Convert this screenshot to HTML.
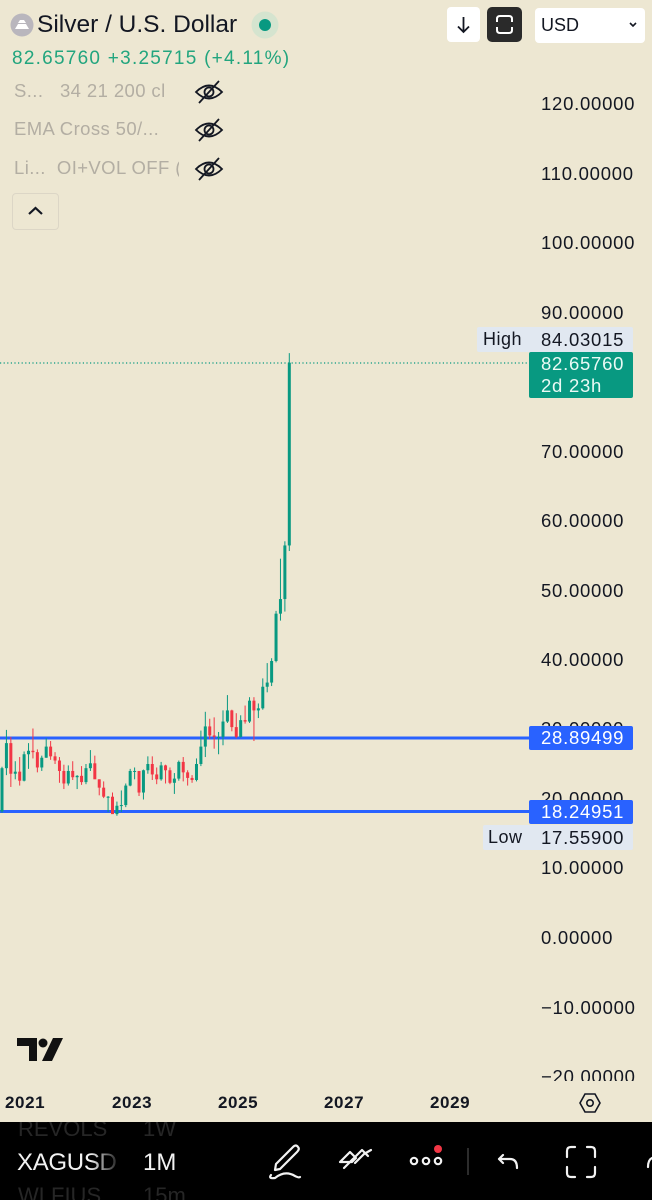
<!DOCTYPE html>
<html><head><meta charset="utf-8">
<style>
*{margin:0;padding:0;box-sizing:border-box}
body{width:652px;height:1200px;background:#ede7d2;font-family:"Liberation Sans",Arial,sans-serif;position:relative;overflow:hidden;color:#131722}
.abs{position:absolute}
.ax{position:absolute;left:541px;font-size:18.5px;letter-spacing:0.75px;line-height:22px;height:22px;white-space:nowrap;color:#131722}
.leg{position:absolute;left:14px;font-size:18.5px;color:#b3aea3;white-space:nowrap;letter-spacing:0.4px;overflow:hidden}
.yr{position:absolute;top:1093px;font-size:17px;font-weight:bold;letter-spacing:0.6px;color:#131722}
.lbl{position:absolute;left:529px;width:104px;height:24px;border-radius:2px;color:#fff;font-size:18.5px;letter-spacing:0.75px;line-height:24px;padding-left:12px;white-space:nowrap}
</style></head><body>

<!-- chart area -->
<div class="abs" style="left:0;top:0;width:652px;height:1081px;overflow:hidden">
  <div class="ax" style="top:93px">120.00000</div>
  <div class="ax" style="top:163px">110.00000</div>
  <div class="ax" style="top:232px">100.00000</div>
  <div class="ax" style="top:302px">90.00000</div>
  <div class="ax" style="top:441px">70.00000</div>
  <div class="ax" style="top:510px">60.00000</div>
  <div class="ax" style="top:580px">50.00000</div>
  <div class="ax" style="top:649px">40.00000</div>
  <div class="ax" style="top:718px">30.00000</div>
  <div class="ax" style="top:788px">20.00000</div>
  <div class="ax" style="top:857px">10.00000</div>
  <div class="ax" style="top:927px">0.00000</div>
  <div class="ax" style="top:997px">−10.00000</div>
  <div class="ax" style="top:1066px">−20.00000</div>

  <svg id="chart" class="abs" style="left:0;top:0" width="530" height="1081" viewBox="0 0 530 1081">
    <line x1="0" y1="363" x2="529" y2="363" stroke="#089981" stroke-width="1.2" stroke-dasharray="1.2 2.4"/>
    <line x1="0" y1="738" x2="529" y2="738" stroke="#2962ff" stroke-width="3"/>
    <line x1="0" y1="811.5" x2="529" y2="811.5" stroke="#2962ff" stroke-width="3"/>
    <g id="candles"></g>
  </svg>

  <!-- High box -->
  <div class="abs" style="left:477px;top:327px;width:156px;height:25px;background:#e1e8f1;border-radius:2px"></div>
  <div class="abs" style="left:483px;top:327px;font-size:18px;line-height:25px;letter-spacing:0.5px">High</div>
  <div class="abs" style="left:541px;top:327px;font-size:18.5px;line-height:25px;letter-spacing:0.75px">84.03015</div>
  <!-- current price -->
  <div class="abs" style="left:529px;top:352px;width:104px;height:46px;background:#089981;border-radius:2px;color:#eafaf5;font-size:18.5px;letter-spacing:0.75px;line-height:22px;padding:1px 0 0 12px">82.65760<br>2d 23h</div>
  <!-- blue labels -->
  <div class="lbl" style="top:726px;background:#2962ff">28.89499</div>
  <div class="lbl" style="top:800px;background:#2962ff">18.24951</div>
  <!-- Low box -->
  <div class="abs" style="left:483px;top:825px;width:150px;height:25px;background:#e1e8f1;border-radius:2px"></div>
  <div class="abs" style="left:488px;top:825px;font-size:18px;line-height:25px;letter-spacing:0.5px">Low</div>
  <div class="abs" style="left:541px;top:825px;font-size:18.5px;line-height:25px;letter-spacing:0.75px">17.55900</div>

  <!-- TV logo -->
  <svg class="abs" style="left:16px;top:1036px" width="50" height="28" viewBox="0 0 50 28">
    <polygon points="1,2 21,2 21,25 13,25 13,10 1,10" fill="#111"/>
    <circle cx="27" cy="7" r="4.5" fill="#111"/>
    <polygon points="37,2 47,2 36,25 26,25" fill="#111"/>
  </svg>
</div>

<!-- header -->
<svg class="abs" style="left:10px;top:13px" width="24" height="24" viewBox="0 0 24 24">
  <circle cx="12" cy="12" r="11.5" fill="#b9b6bd"/>
  <path d="M5 16 L8 11 L16 11 L19 16 Z M8 10 L10 7 L14 7 L16 10 Z" fill="#fff"/>
</svg>
<div class="abs" style="left:37px;top:10px;font-size:24.5px;line-height:30px;color:#131722;white-space:nowrap">Silver / U.S. Dollar</div>
<svg class="abs" style="left:251px;top:11px" width="28" height="28" viewBox="0 0 28 28">
  <circle cx="14" cy="14" r="13.5" fill="#d5e4cf"/>
  <circle cx="14" cy="14" r="6" fill="#089981"/>
</svg>
<div class="abs" style="left:12px;top:47px;font-size:19px;letter-spacing:1.25px;line-height:24px;color:#22a57e;white-space:nowrap">82.65760 +3.25715 (+4.11%)</div>

<div class="abs" style="left:447px;top:7px;width:33px;height:35px;background:#fff;border-radius:4px"></div>
<svg class="abs" style="left:447px;top:7px" width="33" height="35" viewBox="0 0 33 35">
  <path d="M16.5 10 V25 M11 19.5 L16.5 25 L22 19.5" stroke="#131722" stroke-width="1.8" fill="none"/>
</svg>
<div class="abs" style="left:487px;top:7px;width:35px;height:35px;background:#2a2a2a;border-radius:5px"></div>
<svg class="abs" style="left:487px;top:7px" width="35" height="35" viewBox="0 0 35 35">
  <path d="M10 15 V12 Q10 9 13 9 H22 Q25 9 25 12 V15 M10 20 V23 Q10 26 13 26 H22 Q25 26 25 23 V20" stroke="#fff" stroke-width="2" fill="none"/>
</svg>
<div class="abs" style="left:535px;top:8px;width:110px;height:35px;background:#fff;border-radius:4px"></div>
<div class="abs" style="left:541px;top:13px;font-size:18px;line-height:24px;color:#131722">USD</div>
<svg class="abs" style="left:627px;top:20px" width="12" height="10" viewBox="0 0 12 10">
  <path d="M3 3 L6 6 L9 3" stroke="#131722" stroke-width="1.6" fill="none"/>
</svg>

<!-- legend -->
<div class="leg" style="top:80px;width:165px">S...&nbsp;&nbsp; 34 21 200 cl</div>
<div class="leg" style="top:118px">EMA Cross 50/...</div>
<div class="leg" style="top:157px;width:165px">Li...&nbsp; OI+VOL OFF (</div>
<svg class="abs" style="left:193px;top:79px" width="32" height="26" viewBox="0 0 32 26"><path d="M3 13 Q16 0 29 13 Q16 26 3 13 Z" stroke="#131722" stroke-width="1.8" fill="none"/><circle cx="16" cy="13" r="4.5" stroke="#131722" stroke-width="1.8" fill="none"/><line x1="6" y1="24" x2="26" y2="2" stroke="#131722" stroke-width="1.8"/></svg>
<svg class="abs" style="left:193px;top:117px" width="32" height="26" viewBox="0 0 32 26"><path d="M3 13 Q16 0 29 13 Q16 26 3 13 Z" stroke="#131722" stroke-width="1.8" fill="none"/><circle cx="16" cy="13" r="4.5" stroke="#131722" stroke-width="1.8" fill="none"/><line x1="6" y1="24" x2="26" y2="2" stroke="#131722" stroke-width="1.8"/></svg>
<svg class="abs" style="left:193px;top:156px" width="32" height="26" viewBox="0 0 32 26"><path d="M3 13 Q16 0 29 13 Q16 26 3 13 Z" stroke="#131722" stroke-width="1.8" fill="none"/><circle cx="16" cy="13" r="4.5" stroke="#131722" stroke-width="1.8" fill="none"/><line x1="6" y1="24" x2="26" y2="2" stroke="#131722" stroke-width="1.8"/></svg>
<div class="abs" style="left:12px;top:193px;width:47px;height:37px;border:1px solid #dcd6c6;border-radius:4px"></div>
<svg class="abs" style="left:12px;top:193px" width="47" height="37" viewBox="0 0 47 37"><path d="M17 21 L23.5 15 L30 21" stroke="#131722" stroke-width="2.2" fill="none"/></svg>

<!-- time axis -->
<div class="yr" style="left:5px">2021</div>
<div class="yr" style="left:112px">2023</div>
<div class="yr" style="left:218px">2025</div>
<div class="yr" style="left:324px">2027</div>
<div class="yr" style="left:430px">2029</div>
<svg class="abs" style="left:578px;top:1091px" width="24" height="24" viewBox="0 0 24 24">
  <polygon points="7,3 17,3 22,12 17,21 7,21 2,12" stroke="#131722" stroke-width="1.6" fill="none"/>
  <circle cx="12" cy="12" r="3.2" stroke="#131722" stroke-width="1.6" fill="none"/>
</svg>

<!-- bottom bar -->
<div class="abs" style="left:0;top:1122px;width:652px;height:78px;background:#000;overflow:hidden">
  <div class="abs" style="left:18px;top:-6px;font-size:22px;color:#262626">REVOLS</div>
  <div class="abs" style="left:143px;top:-6px;font-size:22px;color:#262626">1W</div>
  <div class="abs" style="left:17px;top:27px;font-size:24px;color:#f2f2f2;letter-spacing:-0.3px">XAGUSD</div>
  <div class="abs" style="left:90px;top:24px;width:32px;height:32px;background:linear-gradient(to right,rgba(0,0,0,0),#000)"></div>
  <div class="abs" style="left:143px;top:27px;font-size:24px;color:#f2f2f2">1M</div>
  <div class="abs" style="left:18px;top:61px;font-size:22px;color:#262626">WLFIUS</div>
  <div class="abs" style="left:143px;top:61px;font-size:22px;color:#262626">15m</div>
</div>
<svg class="abs" style="left:0;top:1122px" width="652" height="78" viewBox="0 0 652 78">
  <g stroke="#f2f2f2" stroke-width="2.2" fill="none" stroke-linecap="round" stroke-linejoin="round">
    <path d="M276 42 L293 25 Q296 22 298 25 Q300 27 297 30 L280 47 L275 48 Z"/>
    <path d="M271 53 Q268 57 275 56 Q285 48 295 54 Q299 56 300 55"/>
    <path d="M340 40 L350 30 L356 36 L352 40 Z M350 40 L362 28 L368 34" />
    <path d="M344 46 L353 37 M355 41 L364 32 L371 28"/>
    <circle cx="414" cy="39" r="3.2"/><circle cx="426" cy="39" r="3.2"/><circle cx="438" cy="39" r="3.2"/>
    <path d="M503 33 L499 37 L503 41 M499 37 H510 Q517 37 517 46"/>
    <path d="M567 35 V29 Q567 25 571 25 H575 M587 25 H591 Q595 25 595 29 V35 M595 45 V51 Q595 55 591 55 H587 M575 55 H571 Q567 55 567 51 V45"/>
    <path d="M648 45 Q648 38 652 36"/>
  </g>
  <line x1="468" y1="26" x2="468" y2="53" stroke="#3a3a3a" stroke-width="1.5"/>
  <circle cx="438" cy="27" r="4" fill="#f23645"/>
</svg>

<script>
(function(){
var d=[
[18.2,24.6,18.0,24.4],[24.4,29.9,23.4,28.0],[28.0,28.9,21.7,23.6],[23.6,25.4,22.8,23.9],[23.9,26.0,21.9,22.6],[22.6,26.8,22.5,26.4],
[26.4,28.0,24.3,26.9],[26.9,30.1,25.8,26.7],[26.7,27.1,23.8,24.5],[24.5,26.2,24.0,25.9],[25.9,28.7,25.9,27.5],[27.5,28.3,25.6,26.1],
[26.1,26.7,25.0,25.5],[25.5,26.0,22.3,24.0],[24.0,24.9,21.4,22.2],[22.2,24.8,21.9,24.0],[24.0,25.4,22.7,23.1],[23.1,23.4,21.4,23.3],
[23.3,24.7,22.0,22.4],[22.4,25.0,22.1,24.4],[24.4,27.0,24.0,25.1],[25.1,26.2,22.9,22.8],[22.8,22.8,20.5,21.6],[21.6,22.5,20.1,20.3],
[20.3,20.4,18.1,20.3],[20.3,20.9,17.9,17.8],[17.8,19.6,17.56,19.0],[19.0,21.2,18.1,19.1],[19.1,22.2,18.8,21.9],[21.9,24.3,21.8,24.0],
[24.0,24.5,22.8,24.0],[24.0,24.0,20.4,20.9],[20.9,24.2,19.9,24.1],[24.1,26.1,23.6,25.0],[25.0,26.1,22.7,23.5],[23.5,24.5,22.1,22.8],
[22.8,25.3,22.6,24.8],[24.8,24.9,22.2,24.1],[24.1,24.5,22.1,22.3],[22.3,23.7,20.7,22.9],[22.9,25.5,22.6,25.3],[25.3,26.0,22.5,23.8],
[23.8,24.1,21.9,23.0],[23.0,23.4,22.3,22.7],[22.7,25.8,22.5,25.0],[25.0,29.8,24.7,27.5],[27.5,32.5,26.0,30.4],[30.4,31.5,28.6,29.1],
[29.1,31.7,27.2,28.9],[28.9,29.6,26.4,28.9],[28.9,32.7,27.7,31.1],[31.1,34.9,30.9,32.7],[32.7,32.8,29.7,30.3],[30.3,32.3,28.7,28.9],
[28.9,32.0,28.8,31.3],[31.3,33.4,30.8,31.1],[31.1,34.6,30.9,34.1],[34.1,34.6,28.3,32.7],[32.7,33.7,31.6,33.0],[33.0,37.3,32.8,36.1],
[36.1,39.5,35.3,36.7],[36.7,40.2,36.2,39.8],[39.8,47.0,39.6,46.6],[46.6,54.5,45.6,48.7],[48.7,57.0,46.9,56.4],[56.4,84.03,55.6,82.66]
];
var g=document.getElementById('candles'),ns='http://www.w3.org/2000/svg';
function Y(p){return 938-6.96*p}
for(var i=0;i<d.length;i++){
 var o=d[i][0],hi=d[i][1],lo=d[i][2],c=d[i][3],x=2+4.42*i;
 var col=c>=o?'#089981':'#f23645';
 var bt=Y(Math.max(o,c)),bb=Y(Math.min(o,c));if(bb-bt<1)bb=bt+1;
 var l=document.createElementNS(ns,'line');
 l.setAttribute('x1',x);l.setAttribute('x2',x);l.setAttribute('y1',Y(hi));l.setAttribute('y2',Y(lo));
 l.setAttribute('stroke',col);l.setAttribute('stroke-width','1');g.appendChild(l);
 var r=document.createElementNS(ns,'rect');
 r.setAttribute('x',x-1.5);r.setAttribute('y',bt);r.setAttribute('width','3');r.setAttribute('height',bb-bt);
 r.setAttribute('fill',col);g.appendChild(r);
}
})();
</script>
</body></html>
